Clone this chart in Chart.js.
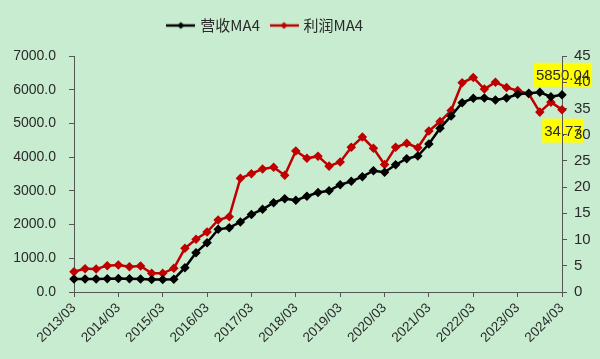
<!DOCTYPE html>
<html>
<head>
<meta charset="utf-8">
<script src="https://cdn.jsdelivr.net/npm/chart.js@4.4.0/dist/chart.umd.min.js"></script>
<style>
    html, body { margin: 0; padding: 0; background: #c8ecd0; }
    canvas { display: block; }
</style>
</head>
<body>
<canvas id="chart" width="600" height="359"></canvas>
<script>
// quarters 2013/03 .. 2024/03
const quarters = [
    '2013/03', '2013/06', '2013/09', '2013/12',
    '2014/03', '2014/06', '2014/09', '2014/12',
    '2015/03', '2015/06', '2015/09', '2015/12',
    '2016/03', '2016/06', '2016/09', '2016/12',
    '2017/03', '2017/06', '2017/09', '2017/12',
    '2018/03', '2018/06', '2018/09', '2018/12',
    '2019/03', '2019/06', '2019/09', '2019/12',
    '2020/03', '2020/06', '2020/09', '2020/12',
    '2021/03', '2021/06', '2021/09', '2021/12',
    '2022/03', '2022/06', '2022/09', '2022/12',
    '2023/03', '2023/06', '2023/09', '2023/12',
    '2024/03'
];

// 营收MA4 (left axis)
const revenueMA4 = [
    386, 386, 386, 390, 400, 390, 386, 370, 370, 380,
    721, 1166, 1463, 1859, 1908, 2076, 2300, 2452, 2650, 2769,
    2719, 2840, 2950, 3005, 3183, 3282, 3420, 3598, 3550, 3776,
    3954, 4034, 4390, 4855, 5220, 5616, 5745, 5755, 5695, 5755,
    5863, 5893, 5923, 5794, 5850.04
];

// 利润MA4 (right axis)
const profitMA4 = [
    3.87, 4.45, 4.39, 5.02, 5.15, 4.83, 4.96, 3.56, 3.56, 4.51,
    8.33, 10.05, 11.44, 13.73, 14.36, 21.68, 22.56, 23.45, 23.77, 22.25,
    26.89, 25.49, 25.9, 24.0, 24.8, 27.6, 29.55, 27.4, 24.3, 27.6,
    28.35, 27.5, 30.7, 32.5, 34.6, 39.9, 40.9, 38.7, 40.0, 39.0,
    38.4, 37.8, 34.3, 36.2, 34.77
];

const leftTicks = [0, 7000, 1000];
const rightTicks = [0, 45, 5];

const AXIS = '#555';
const RED = '#c00000';
const TEXT = '#2a2a2a';
const FONT = "'Liberation Sans', Arial, sans-serif";


/**
 * small line + diamond image for the legend
 */
function legendMark(color) {
    const c = document.createElement('canvas');
    c.width = 29;
    c.height = 10;
    const g = c.getContext('2d');
    g.strokeStyle = color;
    g.lineWidth = 2.5;
    g.beginPath();
    g.moveTo(0, 5);
    g.lineTo(29, 5);
    g.stroke();
    g.fillStyle = color;
    g.beginPath();
    g.moveTo(14.5, 1.5);
    g.lineTo(18, 5);
    g.lineTo(14.5, 8.5);
    g.lineTo(11, 5);
    g.closePath();
    g.fill();
    return c;
}

const marks = [legendMark('#000'), legendMark(RED)];


// paints background and the yellow last-value boxes under the axes
const lastValueBoxes = {
    id: 'lastValueBoxes',
    beforeInit(chart) {
        const fit = chart.legend.fit;
        chart.legend.fit = function () {
            fit.call(this);
            this.height += 13;
        };
    },
    afterLayout(chart) {
        // legend sits a bit left of centre in the original
        chart.legend.left -= 34;
        chart.legend.right -= 34;
    },
    beforeDraw(chart) {
        const ctx = chart.ctx;
        ctx.save();
        ctx.fillStyle = '#c8ecd0';
        ctx.fillRect(0, 0, chart.width, chart.height);

        const x = chart.scales.x.getPixelForValue(quarters.length - 1);
        const items = [
            { v: revenueMA4[revenueMA4.length - 1], y: chart.scales.y.getPixelForValue(revenueMA4[revenueMA4.length - 1]) - 20 },
            { v: profitMA4[profitMA4.length - 1], y: chart.scales.y1.getPixelForValue(profitMA4[profitMA4.length - 1]) + 21 }
        ];

        ctx.font = '15px ' + FONT;
        ctx.textAlign = 'center';
        ctx.textBaseline = 'middle';
        items.forEach(it => {
            const txt = it.v.toFixed(2);
            const w = ctx.measureText(txt).width + 4;
            ctx.fillStyle = '#ffff00';
            ctx.fillRect(x + 1 - w / 2, it.y - 12, w, 24);
            ctx.fillStyle = TEXT;
            ctx.fillText(txt, x + 1, it.y + 1);
        });
        ctx.restore();
    }
};


new Chart(document.getElementById('chart'), {
    type: 'line',
    data: {
        labels: quarters,
        datasets: [{
            label: '营收MA4',
            data: revenueMA4,
            yAxisID: 'y',
            borderColor: '#000',
            backgroundColor: '#000',
            borderWidth: 2.5,
            pointStyle: 'rectRot',
            pointRadius: 3,
            pointHoverRadius: 3,
            tension: 0
        }, {
            label: '利润MA4',
            data: profitMA4,
            yAxisID: 'y1',
            borderColor: RED,
            backgroundColor: RED,
            borderWidth: 2.5,
            pointStyle: 'rectRot',
            pointRadius: 3,
            pointHoverRadius: 3,
            tension: 0
        }]
    },
    options: {
        responsive: false,
        animation: false,
        layout: { padding: { top: 6, left: 0, right: 0, bottom: 0 } },
        plugins: {
            tooltip: { enabled: false },
            legend: {
                position: 'top',
                labels: {
                    usePointStyle: true,
                    pointStyleWidth: 24,
                    color: TEXT,
                    padding: 12,
                    font: { size: 15, family: "'Noto Sans CJK SC', sans-serif" },
                    generateLabels: (chart) => chart.data.datasets.map((ds, i) => ({
                        text: ds.label,
                        pointStyle: marks[i],
                        fontColor: TEXT,
                        datasetIndex: i,
                        lineWidth: 0
                    }))
                }
            }
        },
        scales: {
            x: {
                offset: false,
                afterFit: (s) => { s.height = 67; },
                border: { display: true, color: AXIS, width: 1 },
                grid: {
                    display: true,
                    drawOnChartArea: false,
                    tickLength: 5,
                    tickColor: (c) => c.index % 4 === 0 ? AXIS : 'rgba(0,0,0,0)'
                },
                ticks: {
                    autoSkip: false,
                    minRotation: 45,
                    maxRotation: 45,
                    padding: 3,
                    color: TEXT,
                    font: { size: 13.5, family: FONT },
                    callback: (v, i) => i % 4 === 0 ? quarters[i] : ''
                }
            },
            y: {
                position: 'left',
                min: leftTicks[0],
                max: leftTicks[1],
                afterFit: (s) => { s.width = 74; },
                border: { display: true, color: AXIS, width: 1 },
                grid: { display: true, drawOnChartArea: false, tickLength: 5, tickColor: AXIS },
                ticks: {
                    stepSize: leftTicks[2],
                    color: TEXT,
                    padding: 13,
                    font: { size: 14, family: FONT },
                    callback: (v) => v.toFixed(1)
                }
            },
            y1: {
                position: 'right',
                min: rightTicks[0],
                max: rightTicks[1],
                afterFit: (s) => { s.width = 38; },
                border: { display: true, color: AXIS, width: 1 },
                grid: { display: true, drawOnChartArea: false, tickLength: 5, tickColor: AXIS },
                ticks: {
                    stepSize: rightTicks[2],
                    color: TEXT,
                    padding: 7,
                    font: { size: 15, family: FONT }
                }
            }
        }
    },
    plugins: [lastValueBoxes]
});
</script>
</body>
</html>
